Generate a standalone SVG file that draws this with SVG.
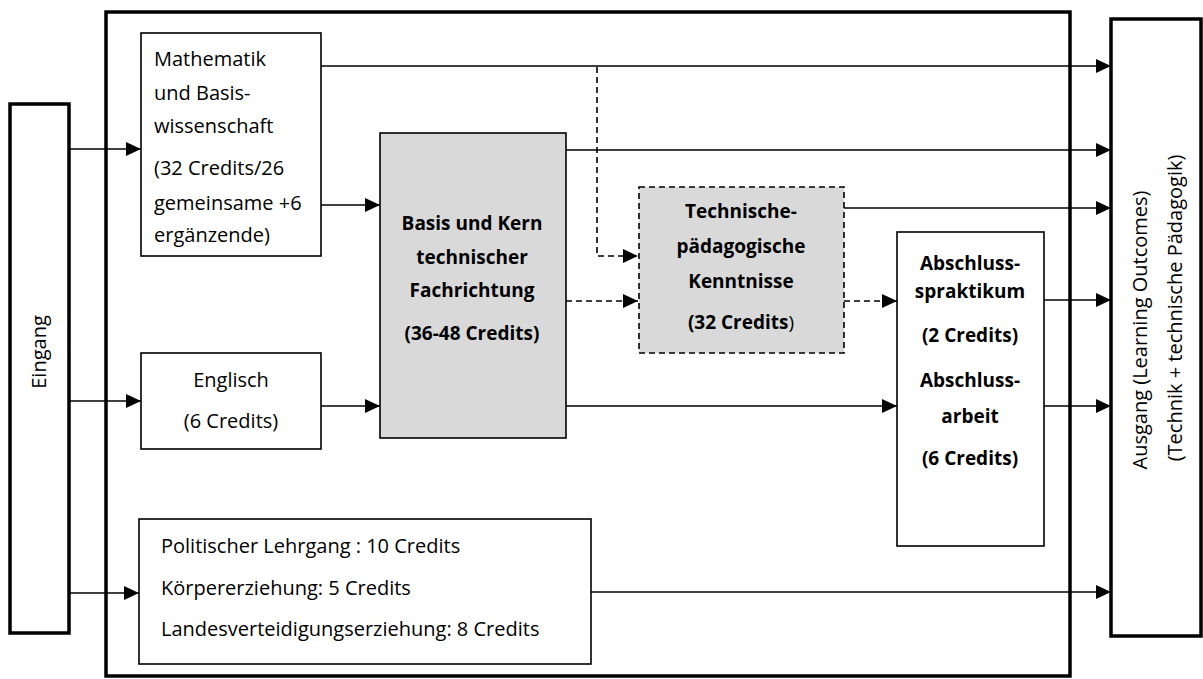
<svg xmlns="http://www.w3.org/2000/svg" width="1203" height="679" viewBox="0 0 1203 679">
  <style>
    .box { fill: #ffffff; stroke: #000000; stroke-width: 1.6; }
    .grey { fill: #d9d9d9; stroke: #000000; stroke-width: 1.6; }
    .dashbox { fill: #d9d9d9; stroke: #000000; stroke-width: 1.6; stroke-dasharray: 6 4; }
    .heavy { fill: #ffffff; stroke: #000000; stroke-width: 3.5; }
    .frame { fill: none; stroke: #000000; stroke-width: 3.5; }
    .t { font-family: "Open Sans", "Liberation Sans", sans-serif; font-size: 20px; fill: #000000; }
    .b { font-family: "Open Sans", "Liberation Sans", sans-serif; font-size: 19px; font-weight: bold; fill: #000000; }
    .c { text-anchor: middle; }
    .edge { fill: none; stroke: #000000; stroke-width: 1.6; }
    .dash { fill: none; stroke: #000000; stroke-width: 1.6; stroke-dasharray: 6 4; }
  </style>
  <defs>
    <marker id="arrow" markerWidth="15" markerHeight="14" refX="15" refY="7" orient="auto" markerUnits="userSpaceOnUse">
      <path d="M0,0 L15,7 L0,14 Z" fill="#000000"/>
    </marker>
  </defs>

  <!-- programme frame -->
  <rect id="frame" class="frame" x="106" y="12" width="964" height="664"/>

  <!-- connectors -->
  <g id="connectors">
    <line class="edge" x1="70" y1="149" x2="141" y2="149" marker-end="url(#arrow)"/>
    <line class="edge" x1="70" y1="401" x2="141" y2="401" marker-end="url(#arrow)"/>
    <line class="edge" x1="70" y1="593" x2="139" y2="593" marker-end="url(#arrow)"/>
    <line class="edge" x1="321" y1="205" x2="380" y2="205" marker-end="url(#arrow)"/>
    <line class="edge" x1="321" y1="406" x2="380" y2="406" marker-end="url(#arrow)"/>
    <line class="edge" x1="321" y1="66" x2="1111" y2="66" marker-end="url(#arrow)"/>
    <polyline class="dash" points="597,67 597,256 638,256" marker-end="url(#arrow)"/>
    <line class="edge" x1="566" y1="150" x2="1111" y2="150" marker-end="url(#arrow)"/>
    <line class="dash" x1="566" y1="301" x2="638" y2="301" marker-end="url(#arrow)"/>
    <line class="edge" x1="844" y1="208" x2="1111" y2="208" marker-end="url(#arrow)"/>
    <line class="dash" x1="844" y1="301" x2="897" y2="301" marker-end="url(#arrow)"/>
    <line class="edge" x1="566" y1="406" x2="897" y2="406" marker-end="url(#arrow)"/>
    <line class="edge" x1="1044" y1="300" x2="1111" y2="300" marker-end="url(#arrow)"/>
    <line class="edge" x1="1044" y1="406" x2="1111" y2="406" marker-end="url(#arrow)"/>
    <line class="edge" x1="591" y1="592" x2="1111" y2="592" marker-end="url(#arrow)"/>
  </g>

  <!-- input -->
  <g id="eingang">
    <rect class="heavy" x="10" y="104" width="59" height="529"/>
    <text class="t c" transform="translate(46,352) rotate(-90)">Eingang</text>
  </g>

  <!-- mathematics and basic science -->
  <g id="mathematik">
    <rect class="box" x="141" y="33" width="180" height="223"/>
    <text class="t" x="154" y="66">Mathematik</text>
    <text class="t" x="154" y="100">und Basis-</text>
    <text class="t" x="154" y="133">wissenschaft</text>
    <text class="t" x="154" y="175">(32 Credits/26</text>
    <text class="t" x="154" y="210">gemeinsame +6</text>
    <text class="t" x="154" y="242">ergänzende)</text>
  </g>

  <!-- English -->
  <g id="englisch">
    <rect class="box" x="141" y="353" width="180" height="96"/>
    <text class="t c" x="231" y="387">Englisch</text>
    <text class="t c" x="231" y="428">(6 Credits)</text>
  </g>

  <!-- general courses -->
  <g id="allgemein">
    <rect class="box" x="139" y="519" width="452" height="145"/>
    <text class="t" x="161" y="553">Politischer Lehrgang : 10 Credits</text>
    <text class="t" x="161" y="595">Körpererziehung: 5 Credits</text>
    <text class="t" x="161" y="636">Landesverteidigungserziehung: 8 Credits</text>
  </g>

  <!-- technical core -->
  <g id="basis">
    <rect class="grey" x="380" y="133" width="186" height="305"/>
    <text class="b c" x="472" y="230">Basis und Kern</text>
    <text class="b c" x="472" y="264">technischer</text>
    <text class="b c" x="472" y="297">Fachrichtung</text>
    <text class="b c" x="472" y="340">(36-48 Credits)</text>
  </g>

  <!-- pedagogy -->
  <g id="paedagogik">
    <rect class="dashbox" x="639" y="187" width="205" height="166"/>
    <text class="b c" x="741" y="218">Technische-</text>
    <text class="b c" x="741" y="253">pädagogische</text>
    <text class="b c" x="741" y="288">Kenntnisse</text>
    <text class="b c" x="741" y="329">(32 Credits<tspan font-weight="normal">)</tspan></text>
  </g>

  <!-- final internship and thesis -->
  <g id="abschluss">
    <rect class="box" x="897" y="232" width="147" height="314"/>
    <text class="b c" x="970" y="270">Abschluss-</text>
    <text class="b c" x="970" y="298">spraktikum</text>
    <text class="b c" x="970" y="342">(2 Credits)</text>
    <text class="b c" x="970" y="387">Abschluss-</text>
    <text class="b c" x="970" y="423">arbeit</text>
    <text class="b c" x="970" y="465">(6 Credits)</text>
  </g>

  <!-- output -->
  <g id="ausgang">
    <rect class="heavy" x="1111" y="19" width="90" height="617"/>
    <text class="t c" transform="translate(1147,330) rotate(-90)">Ausgang (Learning Outcomes)</text>
    <text class="t c" transform="translate(1182,308) rotate(-90)">(Technik + technische Pädagogik)</text>
  </g>
</svg>
